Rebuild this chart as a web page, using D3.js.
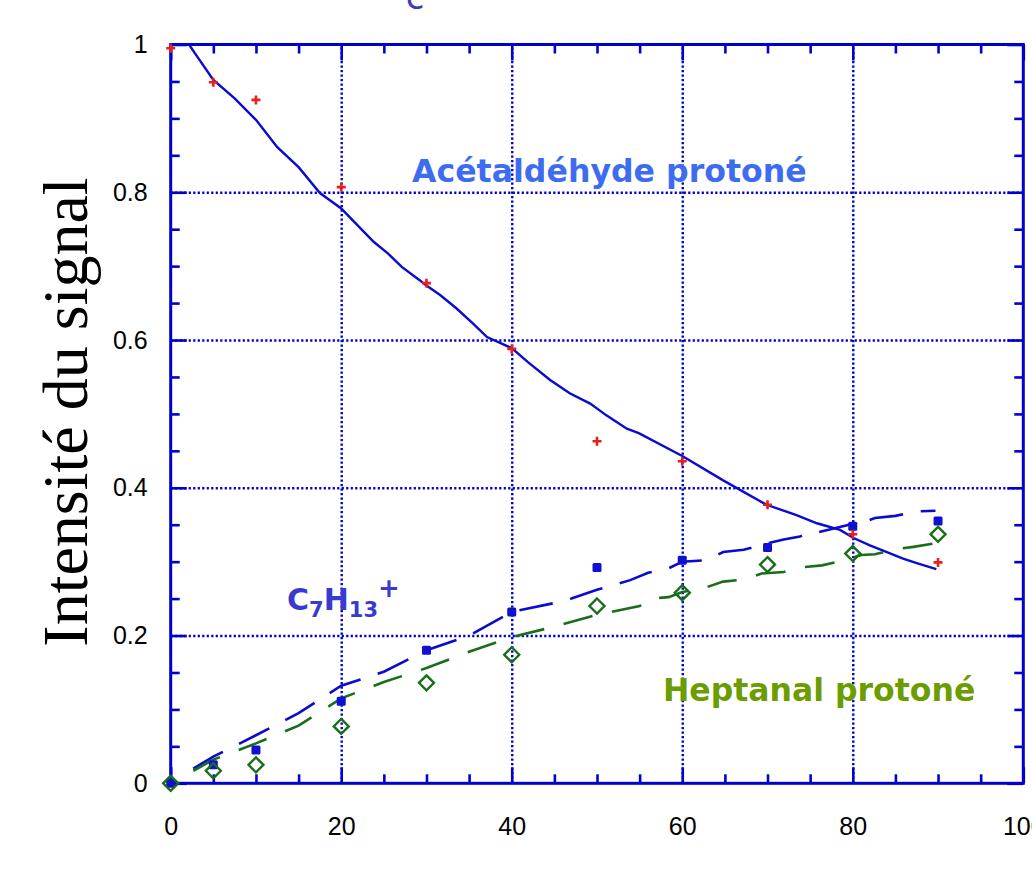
<!DOCTYPE html>
<html><head><meta charset="utf-8">
<script src="https://cdn.jsdelivr.net/npm/d3@7/dist/d3.min.js"></script>
<style>html,body{margin:0;padding:0;background:#fff;overflow:hidden}</style>
</head><body>
<svg id="c" width="1032" height="872"></svg>
<script>
// ---- data ----
const times = [0,5,10,20,30,40,50,60,70,80,90];
const acetData  = [0.995,0.949,0.925,0.807,0.677,0.588,0.463,0.436,0.377,0.337,0.299];
const c7h13Data = [0.0,0.025,0.045,0.111,0.180,0.232,0.292,0.302,0.319,0.348,0.355];
const heptData  = [0.0,0.017,0.025,0.077,0.136,0.174,0.240,0.258,0.296,0.311,0.337];

const acetModelX = [2.15,2.85,5,7.5,10,12.5,15,17.5,20,21.1,23.8,25.5,27.1,29.2,29.95,31.6,33.5,35.5,37.1,40,41.9,44.5,46.8,49.2,51.1,53.5,54.9,60,64.8,69.9,73.4,75.8,78.5,80.1,82,84,85.9,87.5,89.8];
const acetModelY = [1.0,0.988,0.952,0.927,0.898,0.861,0.834,0.799,0.778,0.765,0.733,0.717,0.699,0.681,0.674,0.661,0.643,0.622,0.604,0.589,0.570,0.546,0.528,0.514,0.498,0.480,0.474,0.443,0.410,0.377,0.363,0.352,0.343,0.332,0.322,0.313,0.304,0.298,0.290];

const c7ModelX = [2.65,5,10,15,20,25,30,35,40,45,47,50,53.9,56,58.4,60,62.9,64.8,67.2,70,71.9,73.8,75,76,80,80.9,82.6,85,87.5,89.7];
const c7ModelY = [0.020,0.036,0.065,0.095,0.132,0.151,0.180,0.200,0.232,0.244,0.250,0.262,0.275,0.285,0.291,0.300,0.302,0.313,0.316,0.325,0.330,0.334,0.340,0.340,0.351,0.352,0.359,0.362,0.368,0.369];

const heptModelX = [2.65,5,10,15,20,25,30,35,40,45,50,55,56.3,58.4,60,62.5,64.8,67.4,69.3,71.9,73.8,76.4,78.3,81,82.6,85.2,87.1,89.7];
const heptModelY = [0.017,0.032,0.054,0.078,0.115,0.137,0.156,0.178,0.198,0.212,0.228,0.240,0.250,0.252,0.259,0.264,0.273,0.276,0.284,0.286,0.292,0.295,0.300,0.309,0.310,0.317,0.320,0.325];

const xMajor = [0,20,40,60,80,100];
const yMajor = [0,0.2,0.4,0.6,0.8,1];
const xMinor = [5,10,15,25,30,35,45,50,55,65,70,75,85,90,95];
const yMinor = [0.05,0.1,0.15,0.25,0.3,0.35,0.45,0.5,0.55,0.65,0.7,0.75,0.85,0.9,0.95];
const yTickLabels = ["0","0.2","0.4","0.6","0.8","1"];

// ---- layout ----
const L = 170.7, R = 1023.3, T = 44.5, B = 783.3;
const x = d3.scaleLinear().domain([0,100]).range([L,R]);
const y = d3.scaleLinear().domain([0,1]).range([B,T]);
const svg = d3.select("#c");
const AX = "#0000d0";

// grid
const grid = svg.append("g");
grid.append("g").attr("transform",`translate(0,${B})`)
  .call(d3.axisBottom(x).tickValues([20,40,60,80]).tickSize(-(B-T)).tickFormat(""))
  .call(g=>g.select(".domain").remove())
  .selectAll("line").attr("stroke",AX).attr("stroke-width",2.4).attr("stroke-dasharray","2.2,2.3");
grid.append("g").attr("transform",`translate(${L},0)`)
  .call(d3.axisLeft(y).tickValues([0.2,0.4,0.6,0.8]).tickSize(-(R-L)).tickFormat(""))
  .call(g=>g.select(".domain").remove())
  .selectAll("line").attr("stroke",AX).attr("stroke-width",2.4).attr("stroke-dasharray","2.2,2.3");

// ticks (inward on all four sides)
function tickAxis(axis, tr, size, vals){
  const g = svg.append("g").attr("transform",tr)
    .call(axis.tickValues(vals).tickSize(size).tickFormat(""));
  g.select(".domain").remove();
  g.selectAll("line").attr("stroke",AX).attr("stroke-width",2.6);
}
tickAxis(d3.axisBottom(x), `translate(0,${B})`, -16, xMajor);
tickAxis(d3.axisBottom(x), `translate(0,${B})`, -9, xMinor);
tickAxis(d3.axisTop(x), `translate(0,${T})`, -16, xMajor);
tickAxis(d3.axisTop(x), `translate(0,${T})`, -9, xMinor);
tickAxis(d3.axisLeft(y), `translate(${L},0)`, -16, yMajor);
tickAxis(d3.axisLeft(y), `translate(${L},0)`, -9, yMinor);
tickAxis(d3.axisRight(y), `translate(${R},0)`, -16, yMajor);
tickAxis(d3.axisRight(y), `translate(${R},0)`, -9, yMinor);

// frame
svg.append("rect").attr("x",L).attr("y",T).attr("width",R-L).attr("height",B-T)
  .attr("fill","none").attr("stroke",AX).attr("stroke-width",3);

// tick labels
const xl = svg.append("g").attr("transform",`translate(0,${B})`)
  .call(d3.axisBottom(x).tickValues(xMajor).tickSize(0).tickPadding(34).tickFormat(d3.format("d")));
xl.select(".domain").remove();
xl.selectAll("text").attr("font-family","'Liberation Sans',Arial,sans-serif").attr("font-size",25).attr("fill","#000");
const yl = svg.append("g").attr("transform",`translate(${L},0)`)
  .call(d3.axisLeft(y).tickValues(yMajor).tickSize(0).tickPadding(23).tickFormat((d,i)=>yTickLabels[i]));
yl.select(".domain").remove();
yl.selectAll("text").attr("font-family","'Liberation Sans',Arial,sans-serif").attr("font-size",25).attr("fill","#000");

// y title
svg.append("text").attr("transform","translate(87,412) rotate(-90)")
  .attr("text-anchor","middle").attr("font-family","'Liberation Serif','Times New Roman',serif")
  .attr("font-size",64).attr("fill","#000").text("Intensité du signal");

// cut-off title fragment (also cut off in the reference)
svg.append("text").attr("x",415).attr("y",9).attr("text-anchor","middle")
  .attr("font-family","'DejaVu Sans',Verdana,sans-serif").attr("font-size",34).attr("fill","#3b3bb8").text("c");

// model lines
const line = d3.line().x(d=>x(d[0])).y(d=>y(d[1]));
const zip = (a,b)=>a.map((v,i)=>[v,b[i]]);
svg.append("path").datum(zip(acetModelX,acetModelY)).attr("d",line)
  .attr("fill","none").attr("stroke","#0a0ad0").attr("stroke-width",2.4);
svg.append("path").datum(zip(c7ModelX,c7ModelY)).attr("d",line)
  .attr("fill","none").attr("stroke","#0a0ad0").attr("stroke-width",2.6).attr("stroke-dasharray","34,18");
svg.append("path").datum(zip(heptModelX,heptModelY)).attr("d",line)
  .attr("fill","none").attr("stroke","#1a6e1a").attr("stroke-width",2.6).attr("stroke-dasharray","30,20");

// data markers
const pts = svg.append("g");
pts.selectAll(".sq").data(zip(times,c7h13Data)).join("rect")
  .attr("x",d=>x(d[0])-4.5).attr("y",d=>y(d[1])-4.5).attr("width",9).attr("height",9).attr("rx",1.5)
  .attr("fill","#1010d0");
pts.selectAll(".pl").data(zip(times,acetData)).join("path")
  .attr("d",d=>{const cx=x(d[0]),cy=y(d[1]),s=4.5;return `M${cx-s},${cy}H${cx+s}M${cx},${cy-s}V${cy+s}`;})
  .attr("stroke","#e8201a").attr("stroke-width",2.6).attr("fill","none");
pts.selectAll(".dm").data(zip(times,heptData)).join("path")
  .attr("d",d=>{const cx=x(d[0]),cy=y(d[1]),s=7.5;return `M${cx},${cy-s}L${cx+s},${cy}L${cx},${cy+s}L${cx-s},${cy}Z`;})
  .attr("stroke","#1a6e1a").attr("stroke-width",2.4).attr("fill","none");

// series labels
const lab = svg.append("g").attr("font-family","'DejaVu Sans',Verdana,sans-serif").attr("font-weight","bold");
lab.append("text").attr("x",412).attr("y",182).attr("font-size",31.6).attr("fill","#3d6cf0").text("Acétaldéhyde protoné");
lab.append("text").attr("x",663).attr("y",701).attr("font-size",31.5).attr("fill","#6b9c00").text("Heptanal protoné");
const ct = lab.append("text").attr("x",287).attr("y",610).attr("font-size",30).attr("fill","#3a3ad0");
ct.append("tspan").text("C");
ct.append("tspan").attr("font-size",21).attr("dy",7).text("7");
ct.append("tspan").attr("dy",-7).text("H");
ct.append("tspan").attr("font-size",21).attr("dy",7).text("13");
ct.append("tspan").attr("font-size",26).attr("dy",-20).text("+");
</script>
</body></html>
